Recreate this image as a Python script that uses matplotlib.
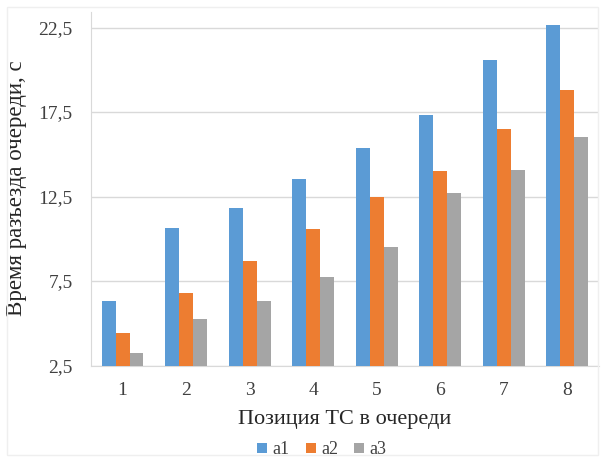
import numpy as np
import matplotlib.pyplot as plt
from matplotlib.patches import Rectangle

plt.rcParams['font.family'] = ['Liberation Serif', 'DejaVu Serif']

# Queue position and clearance time for three variants
positions = ['1', '2', '3', '4', '5', '6', '7', '8']
a1 = [6.35, 10.65, 11.8, 13.55, 15.4, 17.3, 20.6, 22.65]
a2 = [4.45, 6.8, 8.7, 10.6, 12.5, 14.0, 16.5, 18.8]
a3 = [3.25, 5.25, 6.35, 7.75, 9.5, 12.7, 14.1, 16.0]
series = [('a1', a1, '#5B9BD5'), ('a2', a2, '#ED7D31'), ('a3', a3, '#A5A5A5')]

yticks = [2.5, 7.5, 12.5, 17.5, 22.5]
ytick_labels = ['2,5', '7,5', '12,5', '17,5', '22,5']

fig = plt.figure(figsize=(6.05, 4.61), dpi=100)
# faint chart-area frame
fig.patches.append(Rectangle((0.012, 0.012), 0.976, 0.972, transform=fig.transFigure,
                             fill=False, edgecolor='#EFEFEF', linewidth=1))
ax = fig.add_axes([0.150, 0.207, 0.840, 0.768])

x = np.arange(len(positions))
w = 0.22
for i, (name, vals, color) in enumerate(series):
    ax.bar(x + (i - 1) * w, vals, width=w, color=color, label=name, zorder=3)

ax.set_xlim(-0.5, len(positions) - 0.5)
ax.set_ylim(2.5, 23.45)
ax.set_yticks(yticks)
ax.set_yticklabels(ytick_labels)
ax.set_xticks(x)
ax.set_xticklabels(positions)
ax.tick_params(axis='both', length=0, labelsize=14, colors='#404040')
ax.tick_params(axis='y', pad=13)
ax.tick_params(axis='x', pad=12)

ax.grid(axis='y', color='#D9D9D9', linewidth=1, zorder=0)
for s in ['top', 'right']:
    ax.spines[s].set_visible(False)
ax.spines['left'].set_color('#D9D9D9')
ax.spines['bottom'].set_color('#D9D9D9')

ax.set_ylabel('Время разъезда очереди, с', fontsize=16.5, color='#262626', labelpad=8)
ax.set_xlabel('Позиция ТС в очереди', fontsize=16, color='#262626', labelpad=8)

handles, labels = ax.get_legend_handles_labels()
fig.legend(handles, labels, loc='center', bbox_to_anchor=(0.532, 0.024), ncol=3,
           frameon=False, fontsize=13, handlelength=0.55, handleheight=0.55,
           handletextpad=0.3, columnspacing=0.9, labelcolor='#404040')

fig.savefig('out.png', dpi=100)
